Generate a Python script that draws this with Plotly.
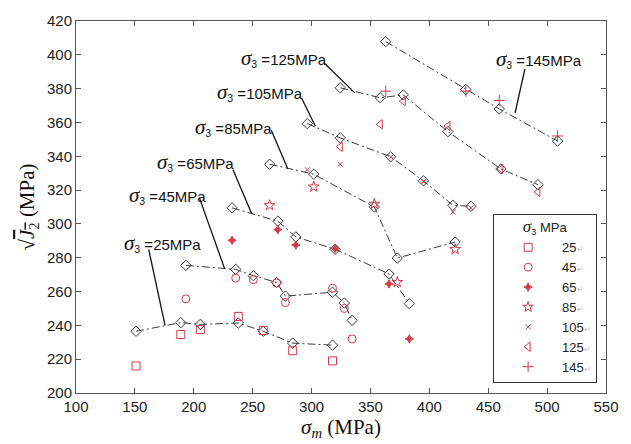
import plotly.graph_objects as go

# ---------------- data ----------------
sig3_labels = ["25", "45", "65", "85", "105", "125", "145"]

x25 = [151, 189, 205.6, 237.8, 259, 284, 317.8]
model25 = [236.5, 241.6, 240.6, 241.4, 236.5, 229.5, 228.3]
exp25 = [216, 234.6, 237.5, 245.3, 237, 225, 219]

x45 = [193.3, 235.6, 250.6, 270.3, 277.8, 317.8, 327.8, 334.4]
model45 = [275.5, 273.1, 269.4, 265.4, 257.3, 259.6, 253.2, 243]
exp45 = [255.7, 268, 267, 265, 253.5, 262, 250, 232]

x65 = [232.5, 271.4, 286.7, 320, 365.8, 383]
model65 = [309.5, 301.6, 292.3, 285, 270.4, 252.8]
exp65 = [290.3, 296.6, 287.5, 285.4, 264.5, 232]

x85 = [264.4, 301.9, 353.3, 372.8, 421.9]
model85 = [335.3, 329.4, 310, 279.8, 289.3]
exp85 = [311, 322, 311.8, 265.5, 285]

x105 = [296.4, 324.4, 367.2, 395, 420, 435.3]
model105 = [359.3, 350.9, 339.7, 325.5, 311, 310.4]
exp105 = [332, 335.3, 339.5, 325, 307, 309.5]

x125 = [324.4, 358.3, 377.8, 415.8, 460.8, 492.2]
model125 = [380.5, 374.6, 376.3, 354.6, 332.5, 323.2]
exp125 = [345.6, 358.9, 372.6, 357.9, 332.5, 318.9]

x145 = [363, 431, 459.4, 508.9]
model145 = [407.8, 379.5, 368, 349]
exp145 = [378.5, 378.5, 373, 352]

xs = [x25, x45, x65, x85, x105, x125, x145]
models = [model25, model45, model65, model85, model105, model125, model145]
exps = [exp25, exp45, exp65, exp85, exp105, exp125, exp145]

# ---------------- style ----------------
RED = "#d23a4a"
symbols = ["square-open", "circle-open", "star-diamond", "star-open",
           "x-thin-open", "triangle-left-open", "cross-thin-open"]
sizes = [8, 8, 6, 8, 5, 8, 8]
SERIF = "Liberation Serif, Times New Roman, serif"
SANS = "Liberation Sans, Arial, sans-serif"

fig = go.Figure()

for i in range(7):
    fig.add_trace(go.Scatter(
        x=xs[i], y=models[i], mode="lines+markers",
        line=dict(color="#3a3a3a", width=1, dash="8px,3px,2px,3px"),
        marker=dict(symbol="diamond-open", size=8, color="#3a3a3a",
                    line=dict(width=1, color="#3a3a3a")),
        showlegend=False, hoverinfo="skip"))

for i in range(7):
    fig.add_trace(go.Scatter(
        x=xs[i], y=exps[i], mode="markers",
        name=sig3_labels[i] + "<span style='color:#bbbbbb;font-size:8px'>↵</span>",
        marker=dict(symbol=symbols[i], size=sizes[i], color=RED,
                    line=dict(width=1, color=RED)),
        showlegend=True))

# ---------------- labels with leader lines ----------------
labels = [
    ("25", 139.4, 289.0, (161.7, 285.0), (175.6, 240.0)),
    ("45", 143.6, 317.3, (204.8, 315.4), (226.1, 273.7)),
    ("65", 167.2, 336.8, (233.3, 332.0), (249.2, 306.0)),
    ("85", 199.2, 357.4, (265.8, 355.4), (279.8, 332.6)),
    ("105", 217.8, 377.9, (291.4, 374.6), (303.3, 357.8)),
    ("125", 238.1, 398.4, (311.1, 394.9), (336.7, 377.5)),
    ("145", 454.8, 397.5, (481.1, 391.6), (472.8, 365.6)),
]
for lab, tx, ty, p0, p1 in labels:
    fig.add_annotation(
        x=tx, y=ty, xref="x", yref="y", showarrow=False,
        xanchor="left", yanchor="middle",
        text=(f"<span style='font-family:{SERIF};font-size:21px'><i>σ</i></span>"
              f"<sub>3</sub> ={lab}MPa"),
        font=dict(family=SANS, size=15, color="#111111"))
    fig.add_shape(type="line", xref="x", yref="y",
                  x0=p0[0], y0=p0[1], x1=p1[0], y1=p1[1],
                  line=dict(color="#111111", width=1.3))

axis_common = dict(
    showline=True, linecolor="#555555", linewidth=1, mirror="ticks",
    ticks="inside", ticklen=5, tickcolor="#555555", showgrid=False,
    zeroline=False, tickfont=dict(family=SANS, size=15, color="#222222"))

fig.update_layout(
    width=631, height=444,
    margin=dict(l=76, r=15, t=20, b=49),
    paper_bgcolor="white", plot_bgcolor="white",
    xaxis=dict(range=[100, 550], dtick=50, tick0=100,
               title=dict(text="<i>σ<sub>m</sub></i> (MPa)", standoff=2,
                          font=dict(family=SERIF, size=21, color="#111111")),
               **axis_common),
    yaxis=dict(range=[200, 420], dtick=20, tick0=200,
               title=dict(text="√<span style='text-decoration:overline'><i>J</i><sub>2</sub></span> (MPa)",
                          standoff=6,
                          font=dict(family=SERIF, size=21, color="#111111")),
               **axis_common),
    legend=dict(x=0.787, y=0.48, xanchor="left", yanchor="top",
                bordercolor="#333333", borderwidth=1, bgcolor="white",
                font=dict(family=SANS, size=13, color="#222222"),
                itemwidth=58, tracegroupgap=0,
                title=dict(text=f"<span style='font-family:{SERIF};font-size:17px'><i>σ</i></span><sub>3</sub> MPa",
                           side="top center",
                           font=dict(family=SANS, size=13, color="#222222"))),
    showlegend=True,
)

fig.write_html("out.html")
